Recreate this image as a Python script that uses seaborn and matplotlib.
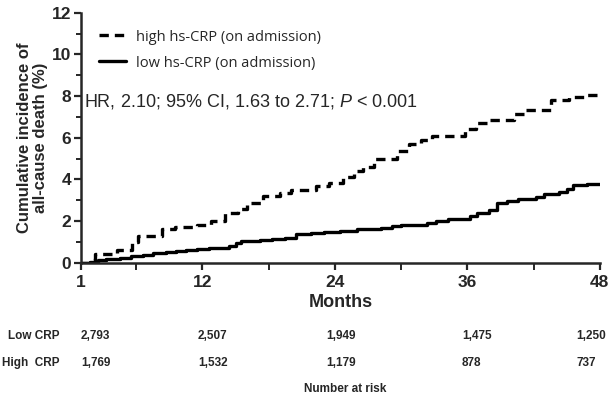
import pandas as pd
import matplotlib.pyplot as plt
import seaborn as sns
from matplotlib.ticker import MultipleLocator, FixedLocator
from matplotlib.transforms import blended_transform_factory

sns.set_style("ticks")
plt.rcParams['font.family'] = ['Liberation Sans', 'DejaVu Sans']
plt.rcParams['mathtext.fontset'] = 'custom'
plt.rcParams['mathtext.rm'] = 'Liberation Sans'
plt.rcParams['mathtext.it'] = 'Liberation Sans:italic'

# cumulative incidence (%)
high_months = [1, 1.8, 2.3, 4.3, 5.6, 6.2, 8.3, 9.5, 11.5, 12.8, 14.0, 15.2, 16.0, 17.5,
               19.0, 20.0, 22.3, 23.5, 24.7, 25.7, 26.5, 27.5, 29.6, 30.7, 31.8, 32.8,
               35.8, 36.8, 37.8, 40.2, 41.2, 43.6, 45.2, 46.6, 48]
high_vals = [0, 0.15, 0.4, 0.6, 1.0, 1.3, 1.6, 1.7, 1.8, 2.0, 2.4, 2.6, 2.85, 3.2,
             3.35, 3.5, 3.7, 3.85, 4.1, 4.4, 4.6, 5.0, 5.35, 5.7, 5.9, 6.1,
             6.4, 6.7, 6.85, 7.15, 7.35, 7.8, 7.95, 8.05, 8.05]

low_months = [1, 1.8, 2.5, 3.3, 4.5, 5.5, 6.6, 7.5, 8.7, 9.6, 10.5, 11.5, 12.6, 14.4,
              15.0, 15.5, 17.2, 18.3, 19.5, 20.5, 21.8, 23.0, 24.5, 26.0, 28.2, 29.2,
              30.0, 32.3, 33.2, 34.2, 36.2, 36.9, 38.0, 38.7, 39.6, 40.6, 42.2, 42.9,
              44.3, 45.0, 45.6, 46.8, 48]
low_vals = [0, 0.05, 0.12, 0.2, 0.25, 0.32, 0.38, 0.45, 0.52, 0.58, 0.62, 0.68, 0.72, 0.8,
            0.95, 1.05, 1.1, 1.15, 1.2, 1.4, 1.45, 1.5, 1.55, 1.6, 1.65, 1.75,
            1.8, 1.9, 2.0, 2.1, 2.25, 2.4, 2.55, 2.85, 2.95, 3.05, 3.15, 3.3,
            3.4, 3.55, 3.75, 3.8, 3.8]

risk_months = [1, 12, 24, 36, 48]
risk_low = ["2,793", "2,507", "1,949", "1,475", "1,250"]
risk_high = ["1,769", "1,532", "1,179", "878", "737"]

high = pd.DataFrame({"month": high_months, "inc": high_vals})
low = pd.DataFrame({"month": low_months, "inc": low_vals})

fig = plt.figure(figsize=(6.09, 3.97), dpi=100)
ax = fig.add_axes([0.133, 0.338, 0.852, 0.630])

sns.lineplot(data=high, x="month", y="inc", ax=ax, color="black", lw=2.4,
             drawstyle="steps-post", linestyle=(0, (2.8, 1.8)),
             label="high hs-CRP (on admission)")
sns.lineplot(data=low, x="month", y="inc", ax=ax, color="black", lw=2.4,
             drawstyle="steps-post", label="low hs-CRP (on admission)")

ax.set_xlim(1, 48)
ax.set_ylim(0, 12)
ax.xaxis.set_major_locator(FixedLocator([1, 12, 24, 36, 48]))
ax.xaxis.set_minor_locator(FixedLocator([6, 18, 30, 42]))
ax.yaxis.set_major_locator(MultipleLocator(2))
ax.yaxis.set_minor_locator(MultipleLocator(1))
ax.tick_params(which="major", length=5, width=1.6, labelsize=12.5, pad=2)
ax.tick_params(axis="x", which="major", pad=4)
ax.tick_params(which="minor", length=3.5, width=1.4)
ax.tick_params(axis="x", which="minor", length=5)
for lab in ax.get_xticklabels() + ax.get_yticklabels():
    lab.set_fontweight("bold")
for s in ["left", "bottom"]:
    ax.spines[s].set_linewidth(1.8)
sns.despine(ax=ax)

ax.set_xlabel("Months", fontsize=13, fontweight="bold", labelpad=3)
ax.set_ylabel("Cumulative incidence of\nall-cause death (%)", fontsize=12,
              fontweight="bold", labelpad=3, linespacing=1.05)

leg = ax.legend(loc="upper left", bbox_to_anchor=(0.01, 0.985), frameon=False,
                handlelength=1.8, handletextpad=0.7, labelspacing=0.75,
                prop={"family": "Open Sans", "size": 10.5})

ax.text(0.005, 0.645, r"HR, 2.10; 95% CI, 1.63 to 2.71; $\it{P}$ < 0.001",
        transform=ax.transAxes, fontsize=13, va="center", ha="left")

# number at risk table
trans = blended_transform_factory(ax.transData, fig.transFigure)
offsets = [0, -0.4, -0.8, -0.5, -2.1]
row_y = [1 - 336 / 397, 1 - 363 / 397]
for m, off, lo, hi in zip(risk_months, offsets, risk_low, risk_high):
    ax.text(m + off, row_y[0], lo, transform=trans, fontsize=8.5,
            fontweight="bold", ha="left", va="center")
    ax.text(m + off, row_y[1], hi, transform=trans, fontsize=8.5,
            fontweight="bold", ha="left", va="center")
fig.text(0.097, row_y[0], "Low CRP", fontsize=8.5, fontweight="bold",
         ha="right", va="center")
fig.text(0.097, row_y[1], "High  CRP", fontsize=8.5, fontweight="bold",
         ha="right", va="center")
fig.text(0.567, 1 - 389 / 397, "Number at risk", fontsize=8.5, fontweight="bold",
         ha="center", va="center")

fig.savefig("out.png", dpi=100)
